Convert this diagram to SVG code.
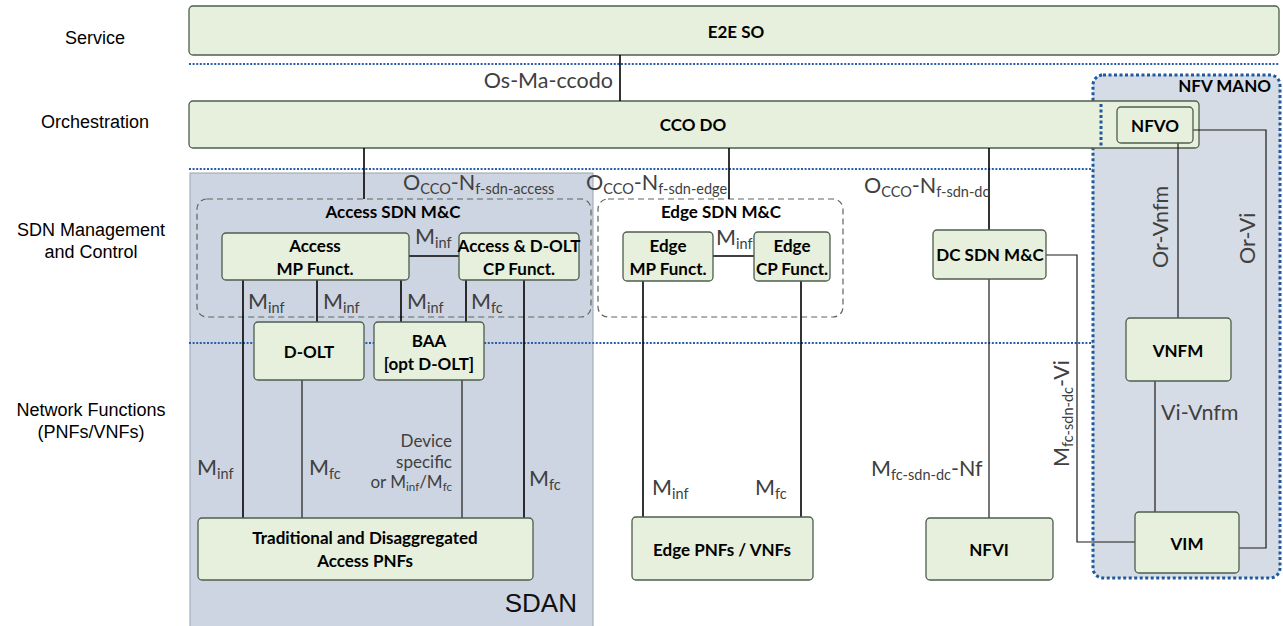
<svg xmlns="http://www.w3.org/2000/svg" width="1283" height="626" viewBox="0 0 1283 626">
<style>
.node{fill:#e6f0dc;stroke:#4d5d4d;stroke-width:1.3}
.grp{fill:none;stroke:#5a665a;stroke-width:1.2;stroke-dasharray:6 4}
.sep{stroke:#2a5ea8;stroke-width:2.2;stroke-dasharray:2 1.6;fill:none}
.ln{stroke:#000;stroke-width:1.6;fill:none}
.lnt{stroke:#1a1a1a;stroke-width:1.2;fill:none}
.t{font-family:Lato,"Liberation Sans",sans-serif;font-weight:700;font-size:17px;fill:#000;text-anchor:middle}
.l{font-family:Lato,"Liberation Sans",sans-serif;font-weight:400;font-size:21.5px;fill:#404040}
.s{font-size:14.5px}
.side{font-family:"Liberation Sans",Arial,sans-serif;font-size:18px;fill:#000;text-anchor:middle}
</style>
<rect width="1283" height="626" fill="#fff"/>

<g id="layer-labels">
<text class="side" x="95" y="44">Service</text>
<text class="side" x="95" y="128">Orchestration</text>
<text class="side" x="91" y="236">SDN Management</text>
<text class="side" x="91" y="258">and Control</text>
<text class="side" x="91" y="416">Network Functions</text>
<text class="side" x="91" y="438">(PNFs/VNFs)</text>
</g>

<g id="sdan">
<rect x="190" y="173" width="403" height="460" fill="#cdd5e2" stroke="#9aa3ad" stroke-width="1"/>
<text x="577" y="612" font-family="'Liberation Sans',Arial,sans-serif" font-size="26" fill="#111" text-anchor="end">SDAN</text>
</g>

<g id="nfv-mano-area">
<rect x="1093" y="75" width="187" height="503" rx="10" fill="#d6dce5" stroke="#1f5aa0" stroke-width="3" stroke-dasharray="3 2.5"/>
<text x="1271" y="92" class="t" style="text-anchor:end">NFV MANO</text>
</g>

<g id="separators">
<line class="sep" x1="189" y1="64" x2="1279" y2="64"/>
<line class="sep" x1="189" y1="169" x2="1093" y2="169"/>
<line class="sep" x1="189" y1="343" x2="1093" y2="343"/>
</g>

<g id="e2e-so">
<rect class="node" x="189" y="6" width="1090" height="49" rx="4"/>
<text class="t" x="736" y="38">E2E SO</text>
</g>

<g id="cco-do">
<rect class="node" x="189" y="101" width="1010" height="47" rx="4"/>
<line x1="1101" y1="104" x2="1101" y2="147" stroke="#1f5aa0" stroke-width="3" stroke-dasharray="3 2.5"/>
<text class="t" x="693" y="131">CCO DO</text>
</g>

<g id="access-sdn-mc">
<rect class="grp" x="197" y="199" width="394" height="118" rx="10"/>
<text class="t" x="393" y="218">Access SDN M&amp;C</text>
</g>

<g id="edge-sdn-mc">
<rect class="grp" x="598" y="199" width="245" height="118" rx="10"/>
<text class="t" x="721" y="218">Edge SDN M&amp;C</text>
</g>

<g id="connectors">
<line class="ln" x1="620" y1="55" x2="620" y2="101"/>
<line class="ln" x1="364" y1="148" x2="364" y2="199"/>
<line class="ln" x1="729" y1="148" x2="729" y2="199"/>
<line class="ln" x1="989" y1="148" x2="989" y2="230"/>
<line class="ln" x1="409" y1="256" x2="459" y2="256"/>
<line class="ln" x1="243" y1="280" x2="243" y2="518"/>
<line class="ln" x1="317" y1="280" x2="317" y2="322"/>
<line class="ln" x1="401" y1="280" x2="401" y2="322"/>
<line class="ln" x1="466" y1="280" x2="466" y2="322"/>
<line class="ln" x1="524" y1="280" x2="524" y2="518"/>
<line class="lnt" x1="302" y1="380" x2="302" y2="518"/>
<line class="lnt" x1="462" y1="380" x2="462" y2="518"/>
<line class="ln" x1="713" y1="256" x2="754" y2="256"/>
<line class="ln" x1="643" y1="281" x2="643" y2="517"/>
<line class="ln" x1="801" y1="281" x2="801" y2="517"/>
<line class="lnt" x1="989" y1="279" x2="989" y2="518"/>
<polyline class="lnt" points="1046,255 1077,255 1077,542 1135,542"/>
<line class="lnt" x1="1178" y1="143" x2="1178" y2="318"/>
<polyline class="lnt" points="1193,130 1266,130 1266,548 1239,548"/>
<line class="lnt" x1="1155" y1="381" x2="1155" y2="512"/>
</g>

<g id="connector-labels">
<text class="l" x="613" y="88" text-anchor="end">Os-Ma-ccodo</text>
<text class="l" x="403" y="190">O<tspan class="s" dy="4">CCO</tspan><tspan dy="-4">-N</tspan><tspan class="s" dy="4">f-sdn-access</tspan></text>
<text class="l" x="586" y="190">O<tspan class="s" dy="4">CCO</tspan><tspan dy="-4">-N</tspan><tspan class="s" dy="4">f-sdn-edge</tspan></text>
<text class="l" x="864" y="193">O<tspan class="s" dy="4">CCO</tspan><tspan dy="-4">-N</tspan><tspan class="s" dy="4">f-sdn-dc</tspan></text>
<text class="l" x="415" y="244">M<tspan class="s" dy="4">inf</tspan></text>
<text class="l" x="248" y="309">M<tspan class="s" dy="4">inf</tspan></text>
<text class="l" x="323" y="309">M<tspan class="s" dy="4">inf</tspan></text>
<text class="l" x="407" y="309">M<tspan class="s" dy="4">inf</tspan></text>
<text class="l" x="471" y="309">M<tspan class="s" dy="4">fc</tspan></text>
<text class="l" x="197" y="475">M<tspan class="s" dy="4">inf</tspan></text>
<text class="l" x="309" y="475">M<tspan class="s" dy="4">fc</tspan></text>
<text class="l" x="529" y="486">M<tspan class="s" dy="4">fc</tspan></text>
<g class="l" style="font-size:17px" text-anchor="end">
<text x="452" y="447">Device</text>
<text x="452" y="468">specific</text>
<text x="452" y="488">or M<tspan style="font-size:11.5px" dy="3">inf</tspan><tspan dy="-3">/M</tspan><tspan style="font-size:11.5px" dy="3">fc</tspan></text>
</g>
<text class="l" x="716" y="245">M<tspan class="s" dy="4">inf</tspan></text>
<text class="l" x="652" y="495">M<tspan class="s" dy="4">inf</tspan></text>
<text class="l" x="755" y="495">M<tspan class="s" dy="4">fc</tspan></text>
<text class="l" x="871" y="476">M<tspan class="s" dy="4">fc-sdn-dc</tspan><tspan dy="-4">-Nf</tspan></text>
<text class="l" transform="translate(1069,467) rotate(-90)">M<tspan class="s" dy="4">fc-sdn-dc</tspan><tspan dy="-4">-Vi</tspan></text>
<text class="l" transform="translate(1168,268) rotate(-90)">Or-Vnfm</text>
<text class="l" transform="translate(1255,264) rotate(-90)">Or-Vi</text>
<text class="l" x="1161" y="420">Vi-Vnfm</text>
</g>

<g id="access-mp">
<rect class="node" x="222" y="233" width="187" height="47" rx="4"/>
<text class="t" x="315" y="252">Access</text>
<text class="t" x="315" y="275">MP Funct.</text>
</g>
<g id="access-cp">
<rect class="node" x="459" y="233" width="120" height="47" rx="4"/>
<text class="t" x="519" y="252">Access &amp; D-OLT</text>
<text class="t" x="519" y="275">CP Funct.</text>
</g>
<g id="d-olt">
<rect class="node" x="254" y="322" width="110" height="58" rx="4"/>
<text class="t" x="309" y="358">D-OLT</text>
</g>
<g id="baa">
<rect class="node" x="374" y="322" width="110" height="58" rx="4"/>
<text class="t" x="429" y="347">BAA</text>
<text class="t" x="429" y="370">[opt D-OLT]</text>
</g>
<g id="access-pnfs">
<rect class="node" x="198" y="518" width="335" height="62" rx="4"/>
<text class="t" x="365" y="544">Traditional and Disaggregated</text>
<text class="t" x="365" y="567">Access PNFs</text>
</g>
<g id="edge-mp">
<rect class="node" x="623" y="232" width="90" height="49" rx="4"/>
<text class="t" x="668" y="252">Edge</text>
<text class="t" x="668" y="275">MP Funct.</text>
</g>
<g id="edge-cp">
<rect class="node" x="754" y="232" width="76" height="49" rx="4"/>
<text class="t" x="792" y="252">Edge</text>
<text class="t" x="792" y="275">CP Funct.</text>
</g>
<g id="edge-pnfs">
<rect class="node" x="632" y="517" width="181" height="63" rx="4"/>
<text class="t" x="722" y="556">Edge PNFs / VNFs</text>
</g>
<g id="dc-sdn-mc">
<rect class="node" x="933" y="230" width="113" height="49" rx="4"/>
<text class="t" x="990" y="261">DC SDN M&amp;C</text>
</g>
<g id="nfvi">
<rect class="node" x="926" y="518" width="127" height="62" rx="4"/>
<text class="t" x="989" y="556">NFVI</text>
</g>
<g id="nfvo">
<rect class="node" x="1117" y="107" width="76" height="36" rx="4"/>
<text class="t" x="1155" y="132">NFVO</text>
</g>
<g id="vnfm">
<rect class="node" x="1126" y="318" width="105" height="63" rx="4"/>
<text class="t" x="1178" y="357">VNFM</text>
</g>
<g id="vim">
<rect class="node" x="1135" y="512" width="104" height="61" rx="4"/>
<text class="t" x="1187" y="550">VIM</text>
</g>
</svg>
